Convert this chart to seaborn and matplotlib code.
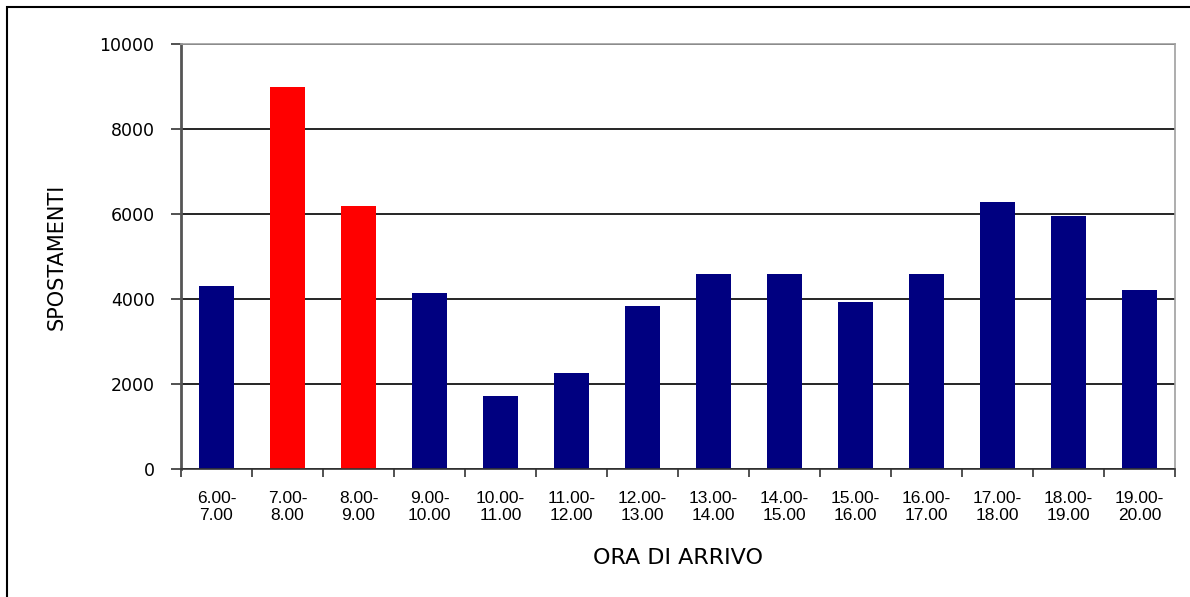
import matplotlib
matplotlib.use("Agg")
import matplotlib.pyplot as plt
from matplotlib.patches import Rectangle
from matplotlib.ticker import FixedLocator
import seaborn as sns
import pandas as pd

# ---- data ----
fasce = ["6.00-\n7.00", "7.00-\n8.00", "8.00-\n9.00", "9.00-\n10.00", "10.00-\n11.00",
         "11.00-\n12.00", "12.00-\n13.00", "13.00-\n14.00", "14.00-\n15.00", "15.00-\n16.00",
         "16.00-\n17.00", "17.00-\n18.00", "18.00-\n19.00", "19.00-\n20.00"]
spostamenti = [4300, 8990, 6200, 4130, 1725, 2265, 3845, 4580, 4580, 3920, 4590, 6290, 5960, 4220]
punta = [False, True, True, False, False, False, False, False, False, False, False, False, False, False]
y_ticks = [0, 2000, 4000, 6000, 8000, 10000]

NAVY = "#000080"
RED = "#FF0000"

sns.set_theme(style="white")
plt.rcParams["font.family"] = ["DejaVu Sans"]
plt.rcParams["text.color"] = "black"
plt.rcParams["axes.labelcolor"] = "black"
plt.rcParams["xtick.color"] = "black"
plt.rcParams["ytick.color"] = "black"

df = pd.DataFrame({"fascia": fasce, "spostamenti": spostamenti})
palette = {f: (RED if p else NAVY) for f, p in zip(fasce, punta)}

W, H = 1190, 597
fig = plt.figure(figsize=(W / 100, H / 100), dpi=100)
fig.patch.set_facecolor("white")
ax = fig.add_axes([181 / W, (H - 469) / H, 994 / W, 425 / H])

sns.barplot(data=df, x="fascia", y="spostamenti", hue="fascia", palette=palette,
            order=fasce, hue_order=fasce, legend=False, width=0.48,
            saturation=1, linewidth=0, ax=ax)

ax.set_xlim(-0.5, len(fasce) - 0.5)
ax.set_ylim(0, 10000)
ax.set_yticks(y_ticks)
ax.set_yticklabels([str(v) for v in y_ticks], fontsize=12.5, fontfamily="DejaVu Sans")
ax.yaxis.grid(True, color="black", linewidth=1.2)
ax.set_axisbelow(True)

# x labels centred on bars, tick marks at category boundaries
ax.set_xticks(range(len(fasce)))
ax.set_xticklabels(fasce, fontsize=12.5, fontfamily="Liberation Sans", linespacing=1.15)
ax.xaxis.set_minor_locator(FixedLocator([i - 0.5 for i in range(len(fasce) + 1)]))
ax.tick_params(axis="x", which="major", length=0, pad=16, labelcolor="black")
ax.tick_params(axis="x", which="minor", length=6, width=1.2, color="#333333", bottom=True)
ax.tick_params(axis="y", which="major", length=7, width=1.2, color="#333333", left=True,
               pad=12, labelcolor="black")

for side in ["top", "right"]:
    ax.spines[side].set_visible(True)
    ax.spines[side].set_color("#a0a0a0")
    ax.spines[side].set_linewidth(1.2)
ax.spines["left"].set_color("#555555")
ax.spines["left"].set_linewidth(2)
ax.spines["bottom"].set_color("#333333")
ax.spines["bottom"].set_linewidth(1.2)

ax.set_xlabel("ORA DI ARRIVO", fontsize=16, labelpad=18, fontfamily="DejaVu Sans", color="black")
ax.set_ylabel("SPOSTAMENTI", fontsize=15, labelpad=24, fontfamily="DejaVu Sans", color="black")

# outer chart border (extends off right/bottom edges as in reference)
fig.patches.append(Rectangle((7 / W, -0.2), 1.2, (H - 7) / H + 0.2,
                             transform=fig.transFigure, fill=False,
                             edgecolor="black", linewidth=1.5))

fig.savefig("out.png", dpi=100, facecolor="white")
